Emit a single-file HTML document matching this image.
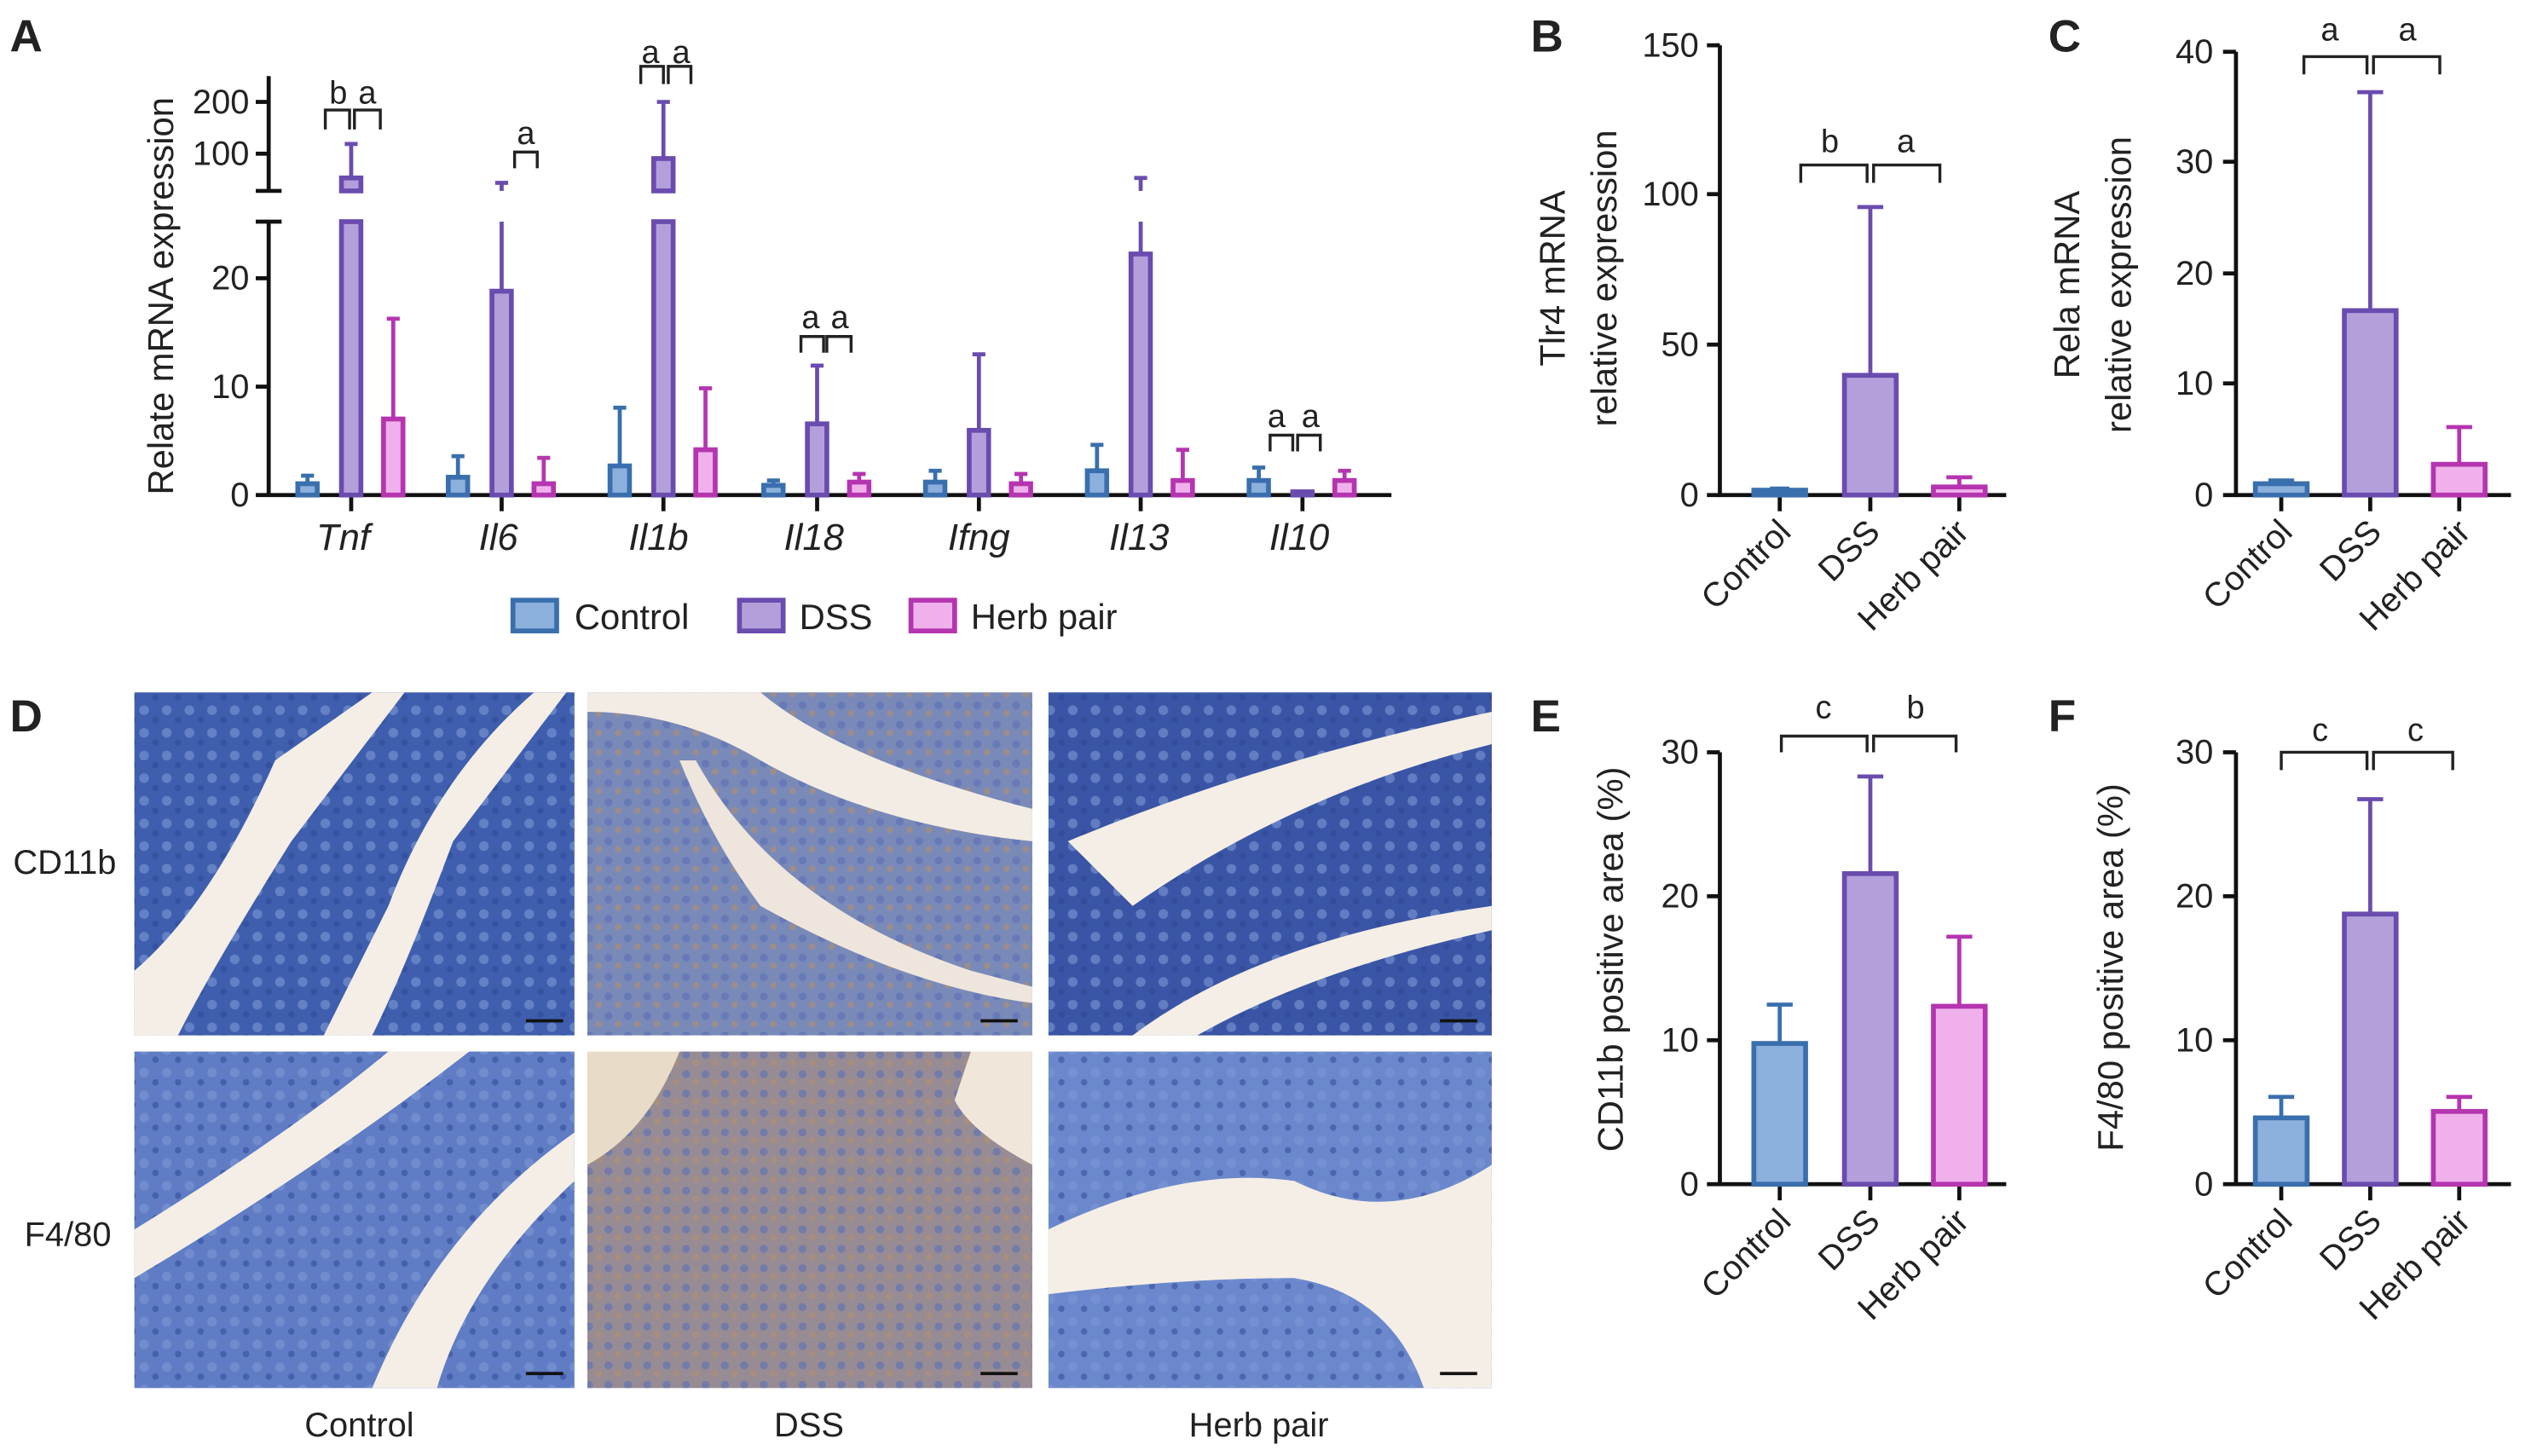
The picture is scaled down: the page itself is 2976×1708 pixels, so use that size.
<!DOCTYPE html>
<html><head><meta charset="utf-8"><style>
html,body{margin:0;padding:0;background:#fff;}
svg{display:block;}
text{font-family:"Liberation Sans",sans-serif;fill:#222;}
</style></head><body>
<svg width="2976" height="1708" viewBox="0 0 1568 900" xmlns="http://www.w3.org/2000/svg">
<defs>
<pattern id="pb" width="14" height="14" patternUnits="userSpaceOnUse">
<circle cx="5" cy="5" r="3" fill="#7d97d4" opacity="0.6"/><circle cx="12" cy="11" r="2" fill="#2c4694" opacity="0.5"/></pattern>
<pattern id="pd" width="12" height="12" patternUnits="userSpaceOnUse">
<circle cx="4" cy="4" r="2.5" fill="#5a70b5" opacity="0.6"/><circle cx="10" cy="9" r="2" fill="#b09070" opacity="0.6"/></pattern>
</defs>
<g style="font-weight:bold;font-size:28px">
<text x="6" y="32">A</text><text x="946" y="32">B</text><text x="1266" y="32">C</text>
<text x="6" y="452">D</text><text x="946" y="452">E</text><text x="1266" y="452">F</text>
</g>

<!-- Panel A -->
<g stroke="#111" stroke-width="2.5" fill="none">
<line x1="166" y1="47" x2="166" y2="118"/><line x1="166" y1="137" x2="166" y2="307"/>
<line x1="158" y1="118" x2="174" y2="118"/><line x1="158" y1="137" x2="174" y2="137"/>
<line x1="158" y1="63" x2="166" y2="63"/><line x1="158" y1="95" x2="166" y2="95"/>
<line x1="158" y1="172" x2="166" y2="172"/><line x1="158" y1="239" x2="166" y2="239"/><line x1="158" y1="306" x2="166" y2="306"/>
<line x1="166" y1="306" x2="860" y2="306"/>
<line x1="217" y1="306" x2="217" y2="316"/><line x1="310" y1="306" x2="310" y2="316"/><line x1="410" y1="306" x2="410" y2="316"/>
<line x1="505" y1="306" x2="505" y2="316"/><line x1="605" y1="306" x2="605" y2="316"/><line x1="705" y1="306" x2="705" y2="316"/><line x1="805" y1="306" x2="805" y2="316"/>
</g>
<g style="font-size:21px" text-anchor="end">
<text x="154" y="70">200</text><text x="154" y="102">100</text><text x="154" y="179">20</text><text x="154" y="246">10</text><text x="154" y="313">0</text>
</g>
<text transform="translate(107,183) rotate(-90)" text-anchor="middle" style="font-size:22px">Relate mRNA expression</text>
<g style="font-size:23px;font-style:italic" text-anchor="middle">
<text x="212" y="340">Tnf</text><text x="308" y="340">Il6</text><text x="407" y="340">Il1b</text><text x="503" y="340">Il18</text><text x="605" y="340">Ifng</text><text x="704" y="340">Il13</text><text x="803" y="340">Il10</text>
</g>
<g fill="#8cb0dc" stroke="#3a6fae" stroke-width="3">
<rect x="184" y="299" width="12" height="7"/><rect x="277" y="295" width="12" height="11"/><rect x="377" y="288" width="12" height="18"/>
<rect x="472" y="300" width="12" height="6"/><rect x="572" y="298" width="12" height="8"/><rect x="672" y="291" width="12" height="15"/><rect x="772" y="297" width="12" height="9"/>
</g>
<g stroke="#3a6fae" stroke-width="2.5">
<path d="M190 299V294M186 294H194M283 295V282M279 282H287M383 288V252M379 252H387M478 300V297M474 297H482M578 298V291M574 291H582M678 291V275M674 275H682M778 297V289M774 289H782"/>
</g>
<g fill="#b3a0db" stroke="#6a4caf" stroke-width="3">
<rect x="211" y="137" width="12" height="169"/><rect x="211" y="110" width="12" height="8"/>
<rect x="304" y="180" width="12" height="126"/>
<rect x="404" y="137" width="12" height="169"/><rect x="404" y="98" width="12" height="20"/>
<rect x="499" y="262" width="12" height="44"/><rect x="599" y="266" width="12" height="40"/>
<rect x="699" y="157" width="12" height="149"/><rect x="799" y="304" width="12" height="2"/>
</g>
<g stroke="#6a4caf" stroke-width="2.5">
<path d="M217 110V89M213 89H221M310 180V137M310 118V113M306 113H314M410 98V63M406 63H414M505 262V226M501 226H509M605 266V219M601 219H609M705 157V137M705 118V110M701 110H709"/>
</g>
<g fill="#f0b0ec" stroke="#b535b0" stroke-width="3">
<rect x="237" y="259" width="12" height="47"/><rect x="330" y="299" width="12" height="7"/><rect x="430" y="278" width="12" height="28"/>
<rect x="525" y="298" width="12" height="8"/><rect x="625" y="299" width="12" height="7"/><rect x="725" y="297" width="12" height="9"/><rect x="825" y="297" width="12" height="9"/>
</g>
<g stroke="#b535b0" stroke-width="2.5">
<path d="M243 259V197M239 197H247M336 299V283M332 283H340M436 278V240M432 240H440M531 298V293M527 293H535M631 299V293M627 293H635M731 297V278M727 278H735M831 297V291M827 291H835"/>
</g>
<g stroke="#222" stroke-width="1.8" fill="none">
<path d="M201 80V68H216V80M219 80V68H235V80"/>
<path d="M318 104V94H332V104"/>
<path d="M396 52V41H410V52M413 52V41H427V52"/>
<path d="M495 218V208H509V218M511 218V208H526V218"/>
<path d="M785 279V269H799V279M802 279V269H816V279"/>
</g>
<g style="font-size:20px" text-anchor="middle">
<text x="209" y="64">b</text><text x="227" y="64">a</text><text x="325" y="89">a</text>
<text x="402" y="39">a</text><text x="421" y="39">a</text>
<text x="501" y="203">a</text><text x="519" y="203">a</text>
<text x="789" y="264">a</text><text x="810" y="264">a</text>
</g>
<rect x="317" y="371" width="27" height="19" fill="#8cb0dc" stroke="#3a6fae" stroke-width="3"/>
<text x="355" y="389" style="font-size:22px">Control</text>
<rect x="457" y="371" width="27" height="19" fill="#b3a0db" stroke="#6a4caf" stroke-width="3"/>
<text x="494" y="389" style="font-size:22px">DSS</text>
<rect x="563" y="371" width="27" height="19" fill="#f0b0ec" stroke="#b535b0" stroke-width="3"/>
<text x="600" y="389" style="font-size:22px">Herb pair</text>

<!-- Panel B -->
<g stroke="#111" stroke-width="2.5" fill="none">
<line x1="1063" y1="28" x2="1063" y2="307"/><line x1="1062" y1="306" x2="1240" y2="306"/>
<path d="M1055 28H1063M1055 120H1063M1055 213H1063M1055 306H1063M1100 306V316M1156 306V316M1211 306V316"/>
</g>
<g style="font-size:21px" text-anchor="end"><text x="1050" y="35">150</text><text x="1050" y="127">100</text><text x="1050" y="220">50</text><text x="1050" y="313">0</text></g>
<text transform="translate(967,172) rotate(-90)" text-anchor="middle" style="font-size:22px">Tlr4 mRNA</text>
<text transform="translate(999,172) rotate(-90)" text-anchor="middle" style="font-size:22px">relative expression</text>
<rect x="1084" y="303" width="32" height="3" fill="#8cb0dc" stroke="#3a6fae" stroke-width="3"/>
<path d="M1100 303V302M1094 302H1106" stroke="#3a6fae" stroke-width="2.5"/>
<rect x="1140" y="232" width="32" height="74" fill="#b3a0db" stroke="#6a4caf" stroke-width="3"/>
<path d="M1156 232V128M1148 128H1164" stroke="#6a4caf" stroke-width="2.5"/>
<rect x="1195" y="301" width="32" height="5" fill="#f0b0ec" stroke="#b535b0" stroke-width="3"/>
<path d="M1211 301V295M1203 295H1219" stroke="#b535b0" stroke-width="2.5"/>
<path d="M1113 113V102H1154V113M1158 113V102H1199V113" stroke="#222" stroke-width="1.8" fill="none"/>
<text x="1131" y="94" style="font-size:20px" text-anchor="middle">b</text><text x="1178" y="94" style="font-size:20px" text-anchor="middle">a</text>

<!-- Panel C -->
<g stroke="#111" stroke-width="2.5" fill="none">
<line x1="1382" y1="32" x2="1382" y2="307"/><line x1="1381" y1="306" x2="1552" y2="306"/>
<path d="M1374 32H1382M1374 100H1382M1374 169H1382M1374 237H1382M1374 306H1382M1410 306V316M1465 306V316M1520 306V316"/>
</g>
<g style="font-size:21px" text-anchor="end"><text x="1368" y="39">40</text><text x="1368" y="107">30</text><text x="1368" y="176">20</text><text x="1368" y="244">10</text><text x="1368" y="313">0</text></g>
<text transform="translate(1285,176) rotate(-90)" text-anchor="middle" style="font-size:22px">Rela mRNA</text>
<text transform="translate(1317,176) rotate(-90)" text-anchor="middle" style="font-size:22px">relative expression</text>
<rect x="1394" y="299" width="32" height="7" fill="#8cb0dc" stroke="#3a6fae" stroke-width="3"/>
<path d="M1410 299V297M1402 297H1418" stroke="#3a6fae" stroke-width="2.5"/>
<rect x="1449" y="192" width="32" height="114" fill="#b3a0db" stroke="#6a4caf" stroke-width="3"/>
<path d="M1465 192V57M1457 57H1473" stroke="#6a4caf" stroke-width="2.5"/>
<rect x="1504" y="287" width="32" height="19" fill="#f0b0ec" stroke="#b535b0" stroke-width="3"/>
<path d="M1520 287V264M1512 264H1528" stroke="#b535b0" stroke-width="2.5"/>
<path d="M1424 46V35H1463V46M1467 46V35H1508V46" stroke="#222" stroke-width="1.8" fill="none"/>
<text x="1440" y="25" style="font-size:20px" text-anchor="middle">a</text><text x="1488" y="25" style="font-size:20px" text-anchor="middle">a</text>

<!-- Panel E -->
<g stroke="#111" stroke-width="2.5" fill="none">
<line x1="1063" y1="465" x2="1063" y2="733"/><line x1="1062" y1="732" x2="1240" y2="732"/>
<path d="M1055 465H1063M1055 554H1063M1055 643H1063M1055 732H1063M1100 732V742M1156 732V742M1211 732V742"/>
</g>
<g style="font-size:21px" text-anchor="end"><text x="1050" y="472">30</text><text x="1050" y="561">20</text><text x="1050" y="650">10</text><text x="1050" y="739">0</text></g>
<text transform="translate(1003,593) rotate(-90)" text-anchor="middle" style="font-size:22px">CD11b positive area (%)</text>
<rect x="1084" y="645" width="32" height="87" fill="#8cb0dc" stroke="#3a6fae" stroke-width="3"/>
<path d="M1100 645V621M1092 621H1108" stroke="#3a6fae" stroke-width="2.5"/>
<rect x="1140" y="540" width="32" height="192" fill="#b3a0db" stroke="#6a4caf" stroke-width="3"/>
<path d="M1156 540V480M1148 480H1164" stroke="#6a4caf" stroke-width="2.5"/>
<rect x="1195" y="622" width="32" height="110" fill="#f0b0ec" stroke="#b535b0" stroke-width="3"/>
<path d="M1211 622V579M1203 579H1219" stroke="#b535b0" stroke-width="2.5"/>
<path d="M1101 465V455H1154V465M1158 465V455H1209V465" stroke="#222" stroke-width="1.8" fill="none"/>
<text x="1127" y="444" style="font-size:20px" text-anchor="middle">c</text><text x="1184" y="444" style="font-size:20px" text-anchor="middle">b</text>

<!-- Panel F -->
<g stroke="#111" stroke-width="2.5" fill="none">
<line x1="1382" y1="465" x2="1382" y2="733"/><line x1="1381" y1="732" x2="1552" y2="732"/>
<path d="M1374 465H1382M1374 554H1382M1374 643H1382M1374 732H1382M1410 732V742M1465 732V742M1520 732V742"/>
</g>
<g style="font-size:21px" text-anchor="end"><text x="1368" y="472">30</text><text x="1368" y="561">20</text><text x="1368" y="650">10</text><text x="1368" y="739">0</text></g>
<text transform="translate(1312,598) rotate(-90)" text-anchor="middle" style="font-size:22px">F4/80 positive area (%)</text>
<rect x="1394" y="691" width="32" height="41" fill="#8cb0dc" stroke="#3a6fae" stroke-width="3"/>
<path d="M1410 691V678M1402 678H1418" stroke="#3a6fae" stroke-width="2.5"/>
<rect x="1449" y="565" width="32" height="167" fill="#b3a0db" stroke="#6a4caf" stroke-width="3"/>
<path d="M1465 565V494M1457 494H1473" stroke="#6a4caf" stroke-width="2.5"/>
<rect x="1504" y="687" width="32" height="45" fill="#f0b0ec" stroke="#b535b0" stroke-width="3"/>
<path d="M1520 687V678M1512 678H1528" stroke="#b535b0" stroke-width="2.5"/>
<path d="M1410 476V465H1463V476M1467 476V465H1516V476" stroke="#222" stroke-width="1.8" fill="none"/>
<text x="1434" y="458" style="font-size:20px" text-anchor="middle">c</text><text x="1493" y="458" style="font-size:20px" text-anchor="middle">c</text>

<g style="font-size:21px" text-anchor="end">
<text transform="translate(1108,330) rotate(-45)">Control</text><text transform="translate(1163,330) rotate(-45)">DSS</text><text transform="translate(1218,330) rotate(-45)">Herb pair</text>
<text transform="translate(1418,330) rotate(-45)">Control</text><text transform="translate(1473,330) rotate(-45)">DSS</text><text transform="translate(1528,330) rotate(-45)">Herb pair</text>
<text transform="translate(1108,756) rotate(-45)">Control</text><text transform="translate(1163,756) rotate(-45)">DSS</text><text transform="translate(1218,756) rotate(-45)">Herb pair</text>
<text transform="translate(1418,756) rotate(-45)">Control</text><text transform="translate(1473,756) rotate(-45)">DSS</text><text transform="translate(1528,756) rotate(-45)">Herb pair</text>
</g>

<!-- Panel D images -->
<rect x="83" y="428" width="272" height="212" fill="#3f5eae"/><rect x="83" y="428" width="272" height="212" fill="url(#pb)"/>
<path d="M83 640L83 600Q130 560 170 470L230 428H250L180 520Q130 600 110 640Z" fill="#f4eee6"/>
<path d="M200 640L240 560Q270 480 330 428H350L280 520Q250 600 230 640Z" fill="#f4eee6"/>
<rect x="363" y="428" width="275" height="212" fill="#7a8ab8"/><rect x="363" y="428" width="275" height="212" fill="url(#pd)"/>
<path d="M363 428H470Q520 470 638 500V520Q540 510 470 470Q420 440 363 440Z" fill="#f2ece4"/>
<path d="M430 470Q480 560 600 600L638 610V620Q560 610 470 560Q440 520 420 470Z" fill="#eee6dc"/>
<rect x="648" y="428" width="274" height="212" fill="#3a55a5"/><rect x="648" y="428" width="274" height="212" fill="url(#pb)"/>
<path d="M660 520Q780 470 922 440V460Q800 490 700 560Q670 530 660 520Z" fill="#f4eee6"/>
<path d="M700 640Q780 580 922 560V575Q810 600 740 640Z" fill="#f4eee6"/>
<rect x="83" y="650" width="272" height="208" fill="#5f7cc4"/><rect x="83" y="650" width="272" height="208" fill="url(#pb)"/>
<path d="M83 760Q180 700 240 650H290Q200 720 83 790Z" fill="#f4eee6"/>
<path d="M230 858Q270 760 355 700V730Q290 790 270 858Z" fill="#f4eee6"/>
<rect x="363" y="650" width="275" height="208" fill="#988c94"/><rect x="363" y="650" width="275" height="208" fill="url(#pd)"/>
<path d="M363 650H420Q400 700 363 720Z" fill="#e8dcc8"/>
<path d="M600 650H638V720Q600 700 590 680Z" fill="#f0e6da"/>
<rect x="648" y="650" width="274" height="208" fill="#6c88cc"/><rect x="648" y="650" width="274" height="208" fill="url(#pb)"/>
<path d="M648 760Q730 720 800 730Q860 760 922 720V858H880Q860 800 800 790Q730 790 648 800Z" fill="#f4eee6"/>
<g stroke="#111" stroke-width="2"><line x1="325" y1="631" x2="348" y2="631"/><line x1="606" y1="631" x2="629" y2="631"/><line x1="890" y1="631" x2="913" y2="631"/>
<line x1="325" y1="849" x2="348" y2="849"/><line x1="606" y1="849" x2="629" y2="849"/><line x1="890" y1="849" x2="913" y2="849"/></g>
<text x="8" y="540" style="font-size:21px">CD11b</text>
<text x="15" y="770" style="font-size:21px">F4/80</text>
<g style="font-size:21px" text-anchor="middle"><text x="222" y="888">Control</text><text x="500" y="888">DSS</text><text x="778" y="888">Herb pair</text></g>
</svg>
</body></html>
